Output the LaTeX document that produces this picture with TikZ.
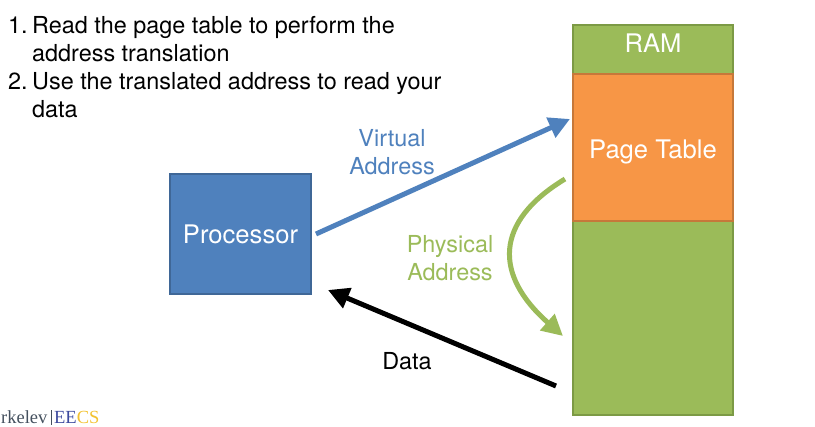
\documentclass[tikz,border=0pt]{standalone}
\usepackage{fontspec}
\setmainfont{TeX Gyre Heros}
\newfontfamily\logofont{Liberation Serif}
\usetikzlibrary{arrows.meta}
\definecolor{procblue}{HTML}{4F81BD}
\definecolor{procedge}{HTML}{3F6797}
\definecolor{ramgreen}{HTML}{9BBB59}
\definecolor{ramedge}{HTML}{7C9A45}
\definecolor{pageorange}{HTML}{F79646}
\definecolor{pageedge}{HTML}{C6783A}
\definecolor{logoblue}{HTML}{3C4A9E}
\definecolor{logogold}{HTML}{F2C230}
\definecolor{logogray}{HTML}{44505E}
\tikzset{
    block/.style={draw, line width=1.5, inner sep=0pt, text=white, font=\fontsize{25.6}{28}\selectfont},
    link/.style={line width=5, -{Triangle[length=21, width=21]}},
    caption/.style={inner sep=0pt, align=center, font=\fontsize{23.4}{28}\selectfont}
}
\begin{document}
\begin{tikzpicture}[x=1pt, y=-1pt]
        \useasboundingbox (0,0) rectangle (815,427);
        \node [block, fill=procblue, draw=procedge, minimum width=141, minimum height=120, text height=20, text depth=0] (processor) at (240.5,234) {Processor};
        \node [block, fill=ramgreen, draw=ramedge, minimum width=160, minimum height=390] (ram) at (653,220) {}; %ram
        \node [block, fill=pageorange, draw=pageedge, minimum width=160, minimum height=147, text height=23, text depth=0] (pagetable) at (653,147.5) {Page Table};
        \node [inner sep=0pt, text=white, font=\fontsize{25.6}{28}\selectfont] (ramlabel) at (653,43) {RAM};

        % --------------------------------------------------

        \coordinate (virtualStart) at (316,234);
        \coordinate (virtualEnd) at (570,119);
        \coordinate (physicalStart) at (565,179);
        \coordinate (physicalEnd) at (563,336);
        \coordinate (dataStart) at (556,386);
        \coordinate (dataEnd) at (328,290);
        \draw[link, color=procblue] (virtualStart) -- (virtualEnd);
        \draw[link, color=ramgreen] (physicalStart) .. controls (494,222) and (494,275) .. (physicalEnd);
        \draw[link, color=black] (dataStart) -- (dataEnd);

        % --------------------------------------------------

        \node [caption, text=procblue] (virtuallabel) at (392,152) {Virtual\\Address};
        \node [caption, text=ramgreen] (physicallabel) at (450,258) {Physical\\Address};
        \node [caption] (datalabel) at (407,361) {Data};
        \node [anchor=north west, inner sep=0pt, align=left, font=\fontsize{23.4}{28}\selectfont] (steps) at (8,16) {\makebox[24pt][l]{1.}Read the page table to perform the\\
            \hspace{24pt}address translation\\
            \makebox[24pt][l]{2.}Use the translated address to read your\\
            \hspace{24pt}data};
        \node [anchor=base west, inner sep=0pt, font=\logofont\fontsize{18.5}{20}\selectfont] (logo) at (1,424) {\textcolor{logogray}{rkelev\,\rule[-1pt]{0.6pt}{15pt}\,}\textcolor{logoblue}{EE}\textcolor{logogold}{CS}};
    \end{tikzpicture}
\end{document}
